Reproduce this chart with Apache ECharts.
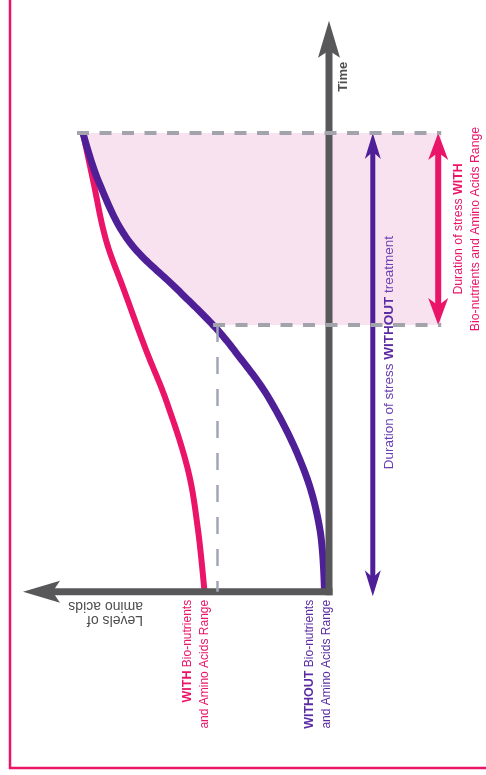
<!DOCTYPE html>
<html>
<head>
<meta charset="utf-8">
<script src="https://cdn.jsdelivr.net/npm/echarts@6/dist/echarts.min.js"></script>
<style>
html,body{margin:0;padding:0;background:#ffffff;}
#chart{width:486px;height:775px;}
</style>
</head>
<body>
<div id="chart"></div>
<script>
// ---- axes (time grows upward, level of amino acids grows to the left) ----
const timeRange = [-32, 105];
const levelRange = [-26, 54];
const levelAxisEnd = 51;
const timeAxisEnd = 102;

// ---- curves: [level] at [time] ----
const withTime   = [0, 11.05, 21.76, 34.27, 43.2, 53.91, 62.85, 73.56, 81.96];
const withLevel  = [20.75, 21.83, 23.5, 27.17, 30.5, 34.17, 37.17, 39.33, 41.0];
const withoutTime  = [0, 11.05, 21.76, 34.27, 43.2, 47.66, 53.91, 62.85, 73.56, 81.96];
const withoutLevel = [0.75, 1.5, 4.17, 9.83, 15.83, 19.33, 25.17, 33.5, 38.5, 41.0];

// ---- stress periods ----
const stressEnd = 81.96;
const stressWithStart = 47.66;
const stressWithoutStart = -0.8;
const crossLevel = 18.7;
const bandTopLeftLevel = 42;
const bandRightLevel = -18.7;
const withoutArrowLevel = -7.3;
const withArrowLevel = -18.2;

// ---- texts ----
const timeTitle = 'Time';
const levelTitle = 'Levels of\namino acids';
const withLabel = ['WITH', ' Bio-nutrients', 'and Amino Acids Range'];
const withoutLabel = ['WITHOUT', ' Bio-nutrients', 'and Amino Acids Range'];
const withoutDuration = ['Duration of stress ', 'WITHOUT', ' treatment'];
const withDuration = ['Duration of stress ', 'WITH', 'Bio-nutrients and Amino Acids Range'];

const MAGENTA = '#ea1468';
const PURPLE = '#4f1f97';
const PURPLE_TXT = '#5a2ca2';
const GREY = '#58585a';
const DASH = '#a3a3ab';
const DASH_V = '#a0a6b8';
const SHADE = '#f9e2ef';
const SANS = "'Liberation Sans',Arial,sans-serif";
const SMOOTH = 0.35;

const zip = (a, b) => a.map((v, i) => [v, b[i]]);

// smooth path through the projected points (same control-point rule as zrender's smoothBezier)
function splineSegments(pix, smooth, steps) {
  const n = pix.length, cpIn = [], cpOut = [];
  for (let i = 0; i < n; i++) {
    if (i === 0 || i === n - 1) { cpIn[i] = pix[i]; cpOut[i] = pix[i]; continue; }
    const p = pix[i], a = pix[i - 1], b = pix[i + 1];
    const vx = (b[0] - a[0]) * smooth, vy = (b[1] - a[1]) * smooth;
    let d0 = Math.hypot(p[0] - a[0], p[1] - a[1]), d1 = Math.hypot(p[0] - b[0], p[1] - b[1]);
    const s = d0 + d1; if (s) { d0 /= s; d1 /= s; }
    cpIn[i] = [p[0] - vx * d0, p[1] - vy * d0];
    cpOut[i] = [p[0] + vx * d1, p[1] + vy * d1];
  }
  const segs = [];
  for (let i = 0; i < n - 1; i++) {
    const P0 = pix[i], C1 = cpOut[i], C2 = cpIn[i + 1], P1 = pix[i + 1], seg = [];
    for (let k = (i === 0 ? 0 : 1); k <= steps; k++) {
      const t = k / steps, m = 1 - t;
      const w0 = m * m * m, w1 = 3 * m * m * t, w2 = 3 * m * t * t, w3 = t * t * t;
      seg.push([w0 * P0[0] + w1 * C1[0] + w2 * C2[0] + w3 * P1[0],
                w0 * P0[1] + w1 * C1[1] + w2 * C2[1] + w3 * P1[1]]);
    }
    segs.push(seg);
  }
  return segs;
}
function projected(params, api) {
  const out = [];
  for (let i = 0; i < params.dataInsideLength; i++) out.push(api.coord([api.value(0, i), api.value(1, i)]));
  return out;
}
function curveRenderer(color, width) {
  return function (params, api) {
    if (params.dataIndexInside !== 0) return null;
    const pts = [].concat(...splineSegments(projected(params, api), SMOOTH, 20));
    return {type: 'polyline', shape: {points: pts},
      style: {stroke: color, lineWidth: width, fill: null, lineJoin: 'round'}};
  };
}
function bandRenderer(params, api) {
  if (params.dataIndexInside !== 0) return null;
  const segs = splineSegments(projected(params, api), SMOOTH, 20);
  let i0 = 0;
  while (i0 < params.dataInsideLength && api.value(1, i0) < stressWithStart) i0++;
  const pts = [api.coord([api.value(0, i0), api.value(1, i0)])].concat(...segs.slice(i0));
  pts.push(api.coord([bandRightLevel, stressEnd]));
  pts.push(api.coord([bandRightLevel, stressWithStart]));
  return {type: 'polygon', shape: {points: pts}, style: {fill: SHADE, stroke: null}};
}

const arrowStyles = [
  {color: GREY, width: 7, head: [22, 37], notch: 0.8, ends: [false, true], cap: 'square'},
  {color: PURPLE, width: 5, head: [16, 26], notch: 0.72, ends: [true, true], cap: 'butt'},
  {color: MAGENTA, width: 6, head: [20, 27], notch: 0.72, ends: [true, true], cap: 'butt'}
];

function renderArrow(params, api) {
  const s = arrowStyles[api.value(4)];
  const p0 = api.coord([api.value(0), api.value(1)]);
  const p1 = api.coord([api.value(2), api.value(3)]);
  const dx = p1[0] - p0[0], dy = p1[1] - p0[1];
  const len = Math.hypot(dx, dy);
  const u = [dx / len, dy / len];
  const n = [-u[1], u[0]];
  const hw = s.head[0], hl = s.head[1], nl = hl * s.notch;
  function head(tip, d) {
    return {
      type: 'polygon',
      shape: {points: [
        tip,
        [tip[0] - d[0] * hl + n[0] * hw / 2, tip[1] - d[1] * hl + n[1] * hw / 2],
        [tip[0] - d[0] * nl, tip[1] - d[1] * nl],
        [tip[0] - d[0] * hl - n[0] * hw / 2, tip[1] - d[1] * hl - n[1] * hw / 2]
      ]},
      style: {fill: s.color}
    };
  }
  let a = p0.slice(), b = p1.slice();
  const kids = [];
  if (s.ends[0]) { a = [p0[0] + u[0] * (nl - 1), p0[1] + u[1] * (nl - 1)]; kids.push(head(p0, [-u[0], -u[1]])); }
  if (s.ends[1]) { b = [p1[0] - u[0] * (nl - 1), p1[1] - u[1] * (nl - 1)]; kids.push(head(p1, u)); }
  kids.unshift({type: 'line', shape: {x1: a[0], y1: a[1], x2: b[0], y2: b[1]},
    style: {stroke: s.color, lineWidth: s.width, lineCap: s.cap}});
  return {type: 'group', children: kids};
}

const chart = echarts.init(document.getElementById('chart'), null, {renderer: 'canvas'});
const bandStartLevel = withoutLevel[withoutTime.indexOf(stressWithStart)];

const option = {
  animation: false,
  backgroundColor: '#ffffff',
  grid: {left: 5, right: 1, top: 4, bottom: 4, containLabel: false},
  xAxis: {type: 'value', inverse: true, min: levelRange[0], max: levelRange[1], show: false},
  yAxis: {type: 'value', min: timeRange[0], max: timeRange[1], show: false},
  series: [
    { // pink band right of the WITHOUT curve during the stress WITH period
      type: 'custom', silent: true, z: 1,
      renderItem: bandRenderer, encode: {x: 0, y: 1},
      data: zip(withoutLevel, withoutTime)
    },
    { // horizontal dashed limits
      type: 'line', data: [], silent: true, z: 2,
      markLine: {
        silent: true, symbol: ['none', 'none'], label: {show: false},
        lineStyle: {color: DASH, width: 4, type: [12, 10.5]},
        data: [
          [{coord: [bandTopLeftLevel, stressEnd]}, {coord: [bandRightLevel, stressEnd]}],
          [{coord: [bandStartLevel, stressWithStart]}, {coord: [bandRightLevel, stressWithStart]}]
        ]
      }
    },
    { // vertical dashed drop line
      type: 'line', data: [], silent: true, z: 2,
      markLine: {
        silent: true, symbol: ['none', 'none'], label: {show: false},
        lineStyle: {color: DASH_V, width: 2.5, type: [17, 15]},
        data: [[{coord: [crossLevel, stressWithStart]}, {coord: [crossLevel, 0]}]]
      }
    },
    {
      name: 'WITH Bio-nutrients and Amino Acids Range',
      type: 'custom', z: 3, silent: true,
      renderItem: curveRenderer(MAGENTA, 6), encode: {x: 0, y: 1},
      data: zip(withLevel, withTime)
    },
    {
      name: 'WITHOUT Bio-nutrients and Amino Acids Range',
      type: 'custom', z: 3, silent: true,
      renderItem: curveRenderer(PURPLE, 7), encode: {x: 0, y: 1},
      data: zip(withoutLevel, withoutTime)
    },
    { // axes and duration arrows
      type: 'custom', z: 4, silent: true,
      renderItem: renderArrow,
      encode: {x: [0, 2], y: [1, 3]},
      data: [
        [0, 0, levelAxisEnd, 0, 0],
        [0, 0, 0, timeAxisEnd, 0],
        [withoutArrowLevel, stressWithoutStart, withoutArrowLevel, stressEnd, 1],
        [withArrowLevel, stressWithStart, withArrowLevel, stressEnd, 2]
      ]
    }
  ]
};
chart.setOption(option);

const P = (l, t) => chart.convertToPixel({gridIndex: 0}, [l, t]);
const pTime = P(0, 92);
const pLevel = P(31, 0);
const pWith = P(withLevel[0], 0);
const pWithout = P(0, 0);
const pWoDur = P(withoutArrowLevel, (stressWithoutStart + stressEnd) / 2);
const pWDur = P(withArrowLevel, (stressWithStart + stressEnd) / 2);

chart.setOption({
  graphic: [
    {type: 'polyline', silent: true, z: 100, shape: {points: [[10, -10], [10, 768], [500, 768]]},
      style: {stroke: MAGENTA, lineWidth: 2.5, fill: null}},
    {type: 'text', silent: true, z: 100, x: pTime[0] + 14, y: pTime[1], rotation: Math.PI / 2,
      style: {text: timeTitle, fill: '#4e4e50', font: 'bold 13px ' + SANS, align: 'center', verticalAlign: 'middle'}},
    {type: 'text', silent: true, z: 100, x: pLevel[0], y: pLevel[1] + 21.5, rotation: Math.PI,
      style: {text: levelTitle, fill: '#4e4e50', font: '14px ' + SANS, lineHeight: 14, align: 'left', verticalAlign: 'middle'}},
    {type: 'text', silent: true, z: 100, x: pWith[0] - 8.5, y: pWith[1] + 8, rotation: Math.PI / 2,
      style: {text: '{b|' + withLabel[0] + '}' + withLabel[1] + '\n' + withLabel[2],
        fill: MAGENTA, font: '12px ' + SANS, lineHeight: 17, align: 'right', verticalAlign: 'middle',
        rich: {b: {fill: MAGENTA, fontWeight: 'bold', fontSize: 12.5, fontFamily: SANS, lineHeight: 17}}}},
    {type: 'text', silent: true, z: 100, x: pWithout[0] - 11, y: pWithout[1] + 8, rotation: Math.PI / 2,
      style: {text: '{b|' + withoutLabel[0] + '}' + withoutLabel[1] + '\n' + withoutLabel[2],
        fill: PURPLE_TXT, font: '12px ' + SANS, lineHeight: 17, align: 'right', verticalAlign: 'middle',
        rich: {b: {fill: PURPLE_TXT, fontWeight: 'bold', fontSize: 12.5, fontFamily: SANS, lineHeight: 17}}}},
    {type: 'text', silent: true, z: 100, x: pWoDur[0] + 16, y: pWoDur[1] - 12, rotation: Math.PI / 2,
      style: {text: withoutDuration[0] + '{b|' + withoutDuration[1] + '}' + withoutDuration[2],
        fill: '#6a40b2', font: '13.5px ' + SANS, lineHeight: 16, align: 'center', verticalAlign: 'middle',
        rich: {b: {fill: PURPLE_TXT, fontWeight: 'bold', fontSize: 13.5, fontFamily: SANS, lineHeight: 16}}}},
    {type: 'text', silent: true, z: 100, x: pWDur[0] + 28.5, y: pWDur[1], rotation: Math.PI / 2,
      style: {text: withDuration[0] + '{b|' + withDuration[1] + '}\n' + withDuration[2],
        fill: MAGENTA, font: '12.3px ' + SANS, lineHeight: 17, align: 'center', verticalAlign: 'middle',
        rich: {b: {fill: MAGENTA, fontWeight: 'bold', fontSize: 12.3, fontFamily: SANS, lineHeight: 17}}}}
  ]
});
</script>
</body>
</html>
